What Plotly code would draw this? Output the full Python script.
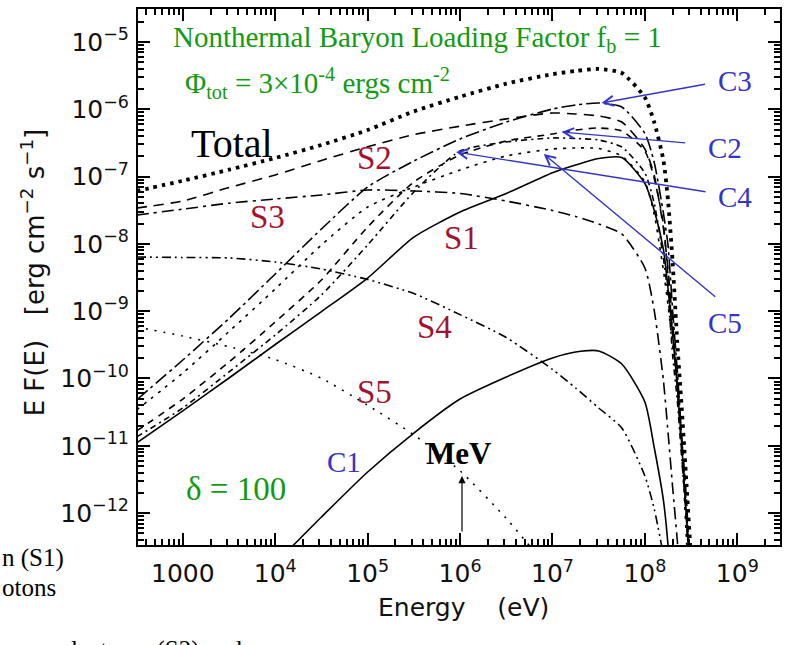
import numpy as np
import plotly.graph_objects as go

# ---------------- data (log10 values) ----------------
# shared energy grid, log10(E / eV)
LOG_E = [2.5, 3.0, 3.5, 4.0, 4.5, 5.0, 5.5, 6.0, 6.5, 7.0, 7.25, 7.5, 7.75,
         8.0, 8.1, 8.2, 8.25, 8.3, 8.35, 8.4, 8.45, 8.5]

# log10 of E F(E)  [erg cm^-2 s^-1]
TOTAL = [-7.214, -7.062, -6.898, -6.724, -6.530, -6.308, -6.031, -5.813, -5.620,
         -5.478, -5.431, -5.401, -5.461, -5.826, -6.189, -6.753, -7.348, -8.269,
         -9.458, -10.468, -11.568, -12.70]
S1 = [-10.958, -10.480, -9.993, -9.495, -9.006, -8.507, -7.900, -7.526, -7.251,
      -6.942, -6.828, -6.731, -6.716, -7.103, -7.496, -8.076, -8.655, -9.339,
      -10.111, -11.003, -12.073, -12.99]
S2 = [-7.467, -7.363, -7.163, -6.976, -6.761, -6.556, -6.377, -6.251, -6.143,
      -6.055, -6.070, -6.100, -6.189, -6.590, -6.976, -7.764, -8.373, -9.175,
      -10.097, -11.137, -12.103, -13.14]
S3 = [-7.571, -7.484, -7.395, -7.333, -7.273, -7.199, -7.214, -7.251, -7.363,
      -7.504, -7.593, -7.704, -7.853, -8.358, -8.982, -10.022, -10.795, -11.612,
      -12.40, -13.3]
S4 = [-8.195, -8.202, -8.209, -8.269, -8.373, -8.529, -8.738, -9.051, -9.391,
      -9.866, -10.141, -10.438, -10.735, -11.449, -11.932, -12.62]
S5 = [-9.235, -9.369, -9.528, -9.718, -9.997, -10.398, -10.838, -11.373, -12.079,
      -12.9]
C2 = [-10.780, -10.305, -9.755, -9.160, -8.536, -7.749, -7.080, -6.679, -6.471,
      -6.367, -6.308, -6.278, -6.322, -6.620, -7.021, -7.704, -8.477, -9.354,
      -10.022, -10.914, -11.807, -13.29]
C3 = [-10.319, -9.725, -9.108, -8.447, -7.779, -7.155, -6.768, -6.441, -6.189,
      -5.996, -5.936, -5.906, -5.966, -6.360, -6.783, -7.541, -8.016, -8.982,
      -9.874, -10.914, -11.954, -13.29]
C4 = [-10.869, -10.438, -9.903, -9.354, -8.759, -8.016, -7.229, -6.620, -6.486,
      -6.426, -6.434, -6.456, -6.560, -6.947, -7.392, -8.210, -8.759, -9.651,
      -10.319, -11.211, -12.103, -13.29]
C5 = [-10.468, -9.918, -9.302, -8.670, -8.016, -7.452, -7.155, -6.902, -6.694,
      -6.590, -6.575, -6.582, -6.694, -7.080, -7.556, -8.388, -8.908, -9.502,
      -10.097, -11.062, -12.400, -13.59]
C1_LOG_E = [4.0, 4.5, 5.0, 5.5, 6.0, 6.5, 7.0, 7.25, 7.5, 7.75, 8.0, 8.1, 8.2, 8.25, 8.3]
C1 = [-12.75, -12.058, -11.389, -10.810, -10.305, -9.978, -9.695, -9.606, -9.591,
      -9.785, -10.349, -11.018, -11.805, -12.47, -13.5]

SUP_X = '<sup style="font-size:19px">'
SUP_Y = '<sup style="font-size:21px">'
X_TICKS = [1e3, 1e4, 1e5, 1e6, 1e7, 1e8, 1e9]
X_TICK_TEXT = ["1000"] + ["10" + SUP_X + p + "</sup>" for p in ["4", "5", "6", "7", "8", "9"]]
Y_TICKS = [1e-5, 1e-6, 1e-7, 1e-8, 1e-9, 1e-10, 1e-11, 1e-12]
Y_TICK_TEXT = ["10" + SUP_Y + "\u2212" + p + "</sup>"
               for p in ["5", "6", "7", "8", "9", "10", "11", "12"]]

# ---------------- figure ----------------
W, H = 785, 645
ML, MR, MT, MB = 138, 3, 9, 100
PW, PH = W - ML - MR, H - MT - MB


def P(px, py):
    return (px - ML) / PW, (H - MB - py) / PH


curves = [
    ("S5", LOG_E, S5, "2px,7px", 1.6),
    ("S4", LOG_E, S4, "9px,4px,2px,4px,2px,4px", 1.6),
    ("S3", LOG_E, S3, "12px,5px,3px,5px", 1.6),
    ("S2", LOG_E, S2, "10px,7px", 1.6),
    ("S1", LOG_E, S1, "solid", 1.6),
    ("C1", C1_LOG_E, C1, "solid", 1.6),
    ("C2", LOG_E, C2, "7px,6px", 1.6),
    ("C3", LOG_E, C3, "14px,4px,3px,4px", 1.6),
    ("C4", LOG_E, C4, "6px,4px,2px,4px", 1.6),
    ("C5", LOG_E, C5, "3px,6px", 1.6),
    ("Total", LOG_E, TOTAL, "3.5px,5px", 3.8),
]

fig = go.Figure()
for name, le, lf, dash, w in curves:
    n = len(lf)
    fig.add_trace(go.Scatter(
        x=10 ** np.array(le[:n]), y=10 ** np.array(lf), mode="lines", name=name,
        line=dict(color="black", width=w, dash=dash, shape="spline", smoothing=0.6),
        showlegend=False, hoverinfo="skip"))

axis_common = dict(
    type="log", showgrid=False, zeroline=False, showline=True, linecolor="black",
    linewidth=2, mirror="ticks", ticks="inside", ticklen=12, tickwidth=2,
    tickcolor="black", tickmode="array",
    tickfont=dict(family="DejaVu Sans", size=25, color="#111"),
    minor=dict(ticks="inside", ticklen=6, tickwidth=1.5, tickcolor="black", dtick="D1"),
)
fig.update_xaxes(range=[2.515, 9.462], tickvals=X_TICKS, ticktext=X_TICK_TEXT,
                 ticklabelstandoff=5, **axis_common)
fig.update_yaxes(range=[-12.474, -4.510], tickvals=Y_TICKS, ticktext=Y_TICK_TEXT,
                 ticklabelstandoff=2, **axis_common)

SERIF = "Liberation Serif"
GREEN = "#139a13"
RED = "#a3132f"
BLUE = "#3434c8"

ann = []


def text(px, py, s, size, color, family=SERIF, xanchor="center", angle=0):
    x, y = P(px, py)
    ann.append(dict(x=x, y=y, xref="paper", yref="paper", text=s, showarrow=False,
                    xanchor=xanchor, yanchor="middle", textangle=angle,
                    font=dict(family=family, size=size, color=color)))


def arrow(tip, tail, color, head, size=1.4, width=1.4):
    x, y = P(*tip)
    ann.append(dict(x=x, y=y, xref="paper", yref="paper", text="", showarrow=True,
                    ax=tail[0] - tip[0], ay=tail[1] - tip[1], axref="pixel", ayref="pixel",
                    arrowhead=head, arrowsize=size, arrowwidth=width, arrowcolor=color,
                    standoff=0))


text(418, 39, "Nonthermal Baryon Loading Factor f<sub>b</sub> = 1", 29, GREEN)
text(183, 83, "\u03a6<sub>tot</sub> = 3\u00d710<sup>-4</sup> ergs cm<sup>-2</sup>", 29, GREEN, xanchor="left")
text(232, 143, "Total", 40, "black")
text(375, 158, "S2", 33, RED)
text(268, 217, "S3", 33, RED)
text(463, 238, "S1", 33, RED)
text(435, 327, "S4", 33, RED)
text(375, 392, "S5", 33, RED)
text(737, 81, "C3", 29, BLUE)
text(727, 148, "C2", 29, BLUE)
text(737, 197, "C4", 29, BLUE)
text(727, 323, "C5", 29, BLUE)
text(345, 462, "C1", 29, BLUE)
text(460, 453, "<b>MeV</b>", 31, "black")
text(236, 489, "\u03b4 = 100", 33, GREEN)
text(0, 558, "n (S1)", 25, "black", xanchor="left")
text(0, 587, "otons", 25, "black", xanchor="left")
text(58, 650, "electrons (S2) and", 25, "black", xanchor="left")

text(33, 272, "E F(E)\u00a0\u00a0\u00a0[erg cm" + SUP_X + "\u22122</sup> s" + SUP_X + "\u22121</sup>]",
     26, "#111", family="DejaVu Sans", angle=-90)
text(465, 607, "Energy\u00a0\u00a0\u00a0\u00a0(eV)", 25, "#111", family="DejaVu Sans")

arrow((603, 103), (708, 84), BLUE, 5)
arrow((563, 132), (688, 143), BLUE, 5)
arrow((457, 152), (708, 192), BLUE, 5)
arrow((545, 154), (718, 298), BLUE, 5)
arrow((463, 476), (463, 533), "black", 2, size=1.2, width=1.2)

fig.update_layout(
    width=W, height=H, margin=dict(l=ML, r=MR, t=MT, b=MB, pad=0),
    paper_bgcolor="white", plot_bgcolor="white", annotations=ann, showlegend=False,
)

fig.write_html("out.html")
